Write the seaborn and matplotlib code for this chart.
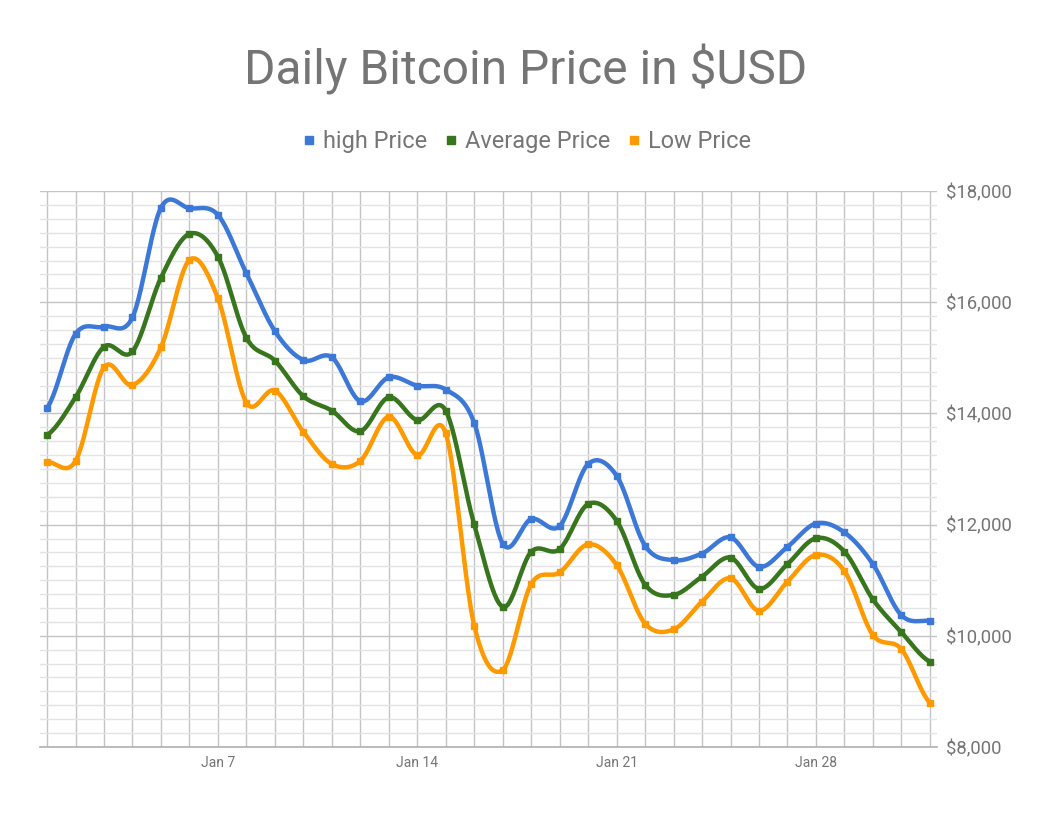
import numpy as np
import pandas as pd
import matplotlib
matplotlib.use("Agg")
import matplotlib.pyplot as plt
import seaborn as sns
from matplotlib.ticker import MultipleLocator, FuncFormatter

# Jan 1 .. Feb 1
day_num = list(range(1, 33))
tick_days = [7, 14, 21, 28]
tick_labels = ["Jan 7", "Jan 14", "Jan 21", "Jan 28"]

high_price = [14100, 15430, 15560, 15730, 17700, 17690, 17570, 16520, 15480, 14960,
              15010, 14220, 14650, 14500, 14430, 13830, 11660, 12100, 11975, 13090,
              12880, 11620, 11360, 11480, 11770, 11240, 11600, 12020, 11860, 11290,
              10370, 10270]
avg_price = [13610, 14290, 15200, 15115, 16440, 17230, 16820, 15360, 14950, 14310,
             14050, 13680, 14290, 13880, 14050, 12005, 10520, 11510, 11560, 12370,
             12070, 10920, 10735, 11065, 11405, 10845, 11290, 11755, 11515, 10655,
             10065, 9535]
low_price = [13130, 13145, 14830, 14510, 15190, 16760, 16070, 14195, 14410, 13670,
             13090, 13145, 13940, 13250, 13640, 10185, 9385, 10930, 11140, 11645,
             11275, 10220, 10115, 10615, 11035, 10450, 10975, 11455, 11165, 10015,
             9760, 8800]

series_names = ["high Price", "Average Price", "Low Price"]
colors = ["#3c78d8", "#38761d", "#ff9900"]


def smooth(x, y, n=24):
    # catmull-rom curve through every point, like the sheets "smooth" option
    x = np.asarray(x, float)
    y = np.asarray(y, float)
    p = np.concatenate([[y[0]], y, [y[-1]]])
    xs, ys = [], []
    t = np.linspace(0, 1, n, endpoint=False)
    for i in range(len(y) - 1):
        p0, p1, p2, p3 = p[i], p[i + 1], p[i + 2], p[i + 3]
        seg = 0.5 * (2 * p1 + (-p0 + p2) * t + (2 * p0 - 5 * p1 + 4 * p2 - p3) * t ** 2
                     + (-p0 + 3 * p1 - 3 * p2 + p3) * t ** 3)
        xs.append(x[i] + (x[i + 1] - x[i]) * t)
        ys.append(seg)
    xs.append([x[-1]])
    ys.append([y[-1]])
    return np.concatenate(xs), np.concatenate(ys)


plt.rcParams["font.family"] = ["Roboto", "DejaVu Sans"]
fig = plt.figure(figsize=(10.51, 8.13), dpi=100)
ax = fig.add_axes([0.038, 0.0812, 0.8535, 0.6838])

for name, vals, c in zip(series_names, [high_price, avg_price, low_price], colors):
    sx, sy = smooth(day_num, vals)
    sns.lineplot(x=sx, y=sy, ax=ax, color=c, linewidth=3.2, sort=False, zorder=3)
    ax.plot(day_num, vals, linestyle="none", marker="s", markersize=5, color=c, zorder=4)

ax.set_xlim(0.75, 32.25)
ax.set_ylim(8000, 18000)

# grid
ax.xaxis.set_major_locator(MultipleLocator(1))
ax.yaxis.set_major_locator(MultipleLocator(2000))
ax.yaxis.set_minor_locator(MultipleLocator(250))
ax.grid(True, which="major", axis="both", color="#c4c4c4", linewidth=1.0, zorder=0)
ax.grid(True, which="minor", axis="y", color="#e4e4e4", linewidth=1.0, zorder=0)
ax.set_axisbelow(True)

for s in ["top", "left", "right"]:
    ax.spines[s].set_visible(False)
ax.spines["bottom"].set_color("#b0b0b0")
ax.spines["bottom"].set_linewidth(1.2)

ax.yaxis.tick_right()
ax.yaxis.set_major_formatter(FuncFormatter(lambda v, p: "${:,.0f}".format(v)))
ax.tick_params(axis="y", which="both", length=0, pad=6.5, labelsize=13.3, labelcolor="#757575")

# x labels only at weekly marks
ax.set_xticks(day_num)
ax.set_xticklabels(["" for d in day_num])
ax.tick_params(axis="x", length=0)
for d, lab in zip(tick_days, tick_labels):
    ax.text(d, -0.028, lab, transform=ax.get_xaxis_transform(), ha="center", va="center",
            fontsize=10, color="#757575")

fig.text(0.5, 0.914, "Daily Bitcoin Price in $USD", ha="center", va="center",
         fontsize=34.5, color="#757575")

handles = [plt.Line2D([], [], linestyle="none", marker="s", markersize=6, color=c) for c in colors]
fig.legend(handles, series_names, loc="center", bbox_to_anchor=(0.5, 0.826), ncol=3,
           frameon=False, fontsize=16.9, labelcolor="#757575", handletextpad=0.2,
           columnspacing=0.6, handlelength=0.8)

fig.savefig("out.png", dpi=100)
